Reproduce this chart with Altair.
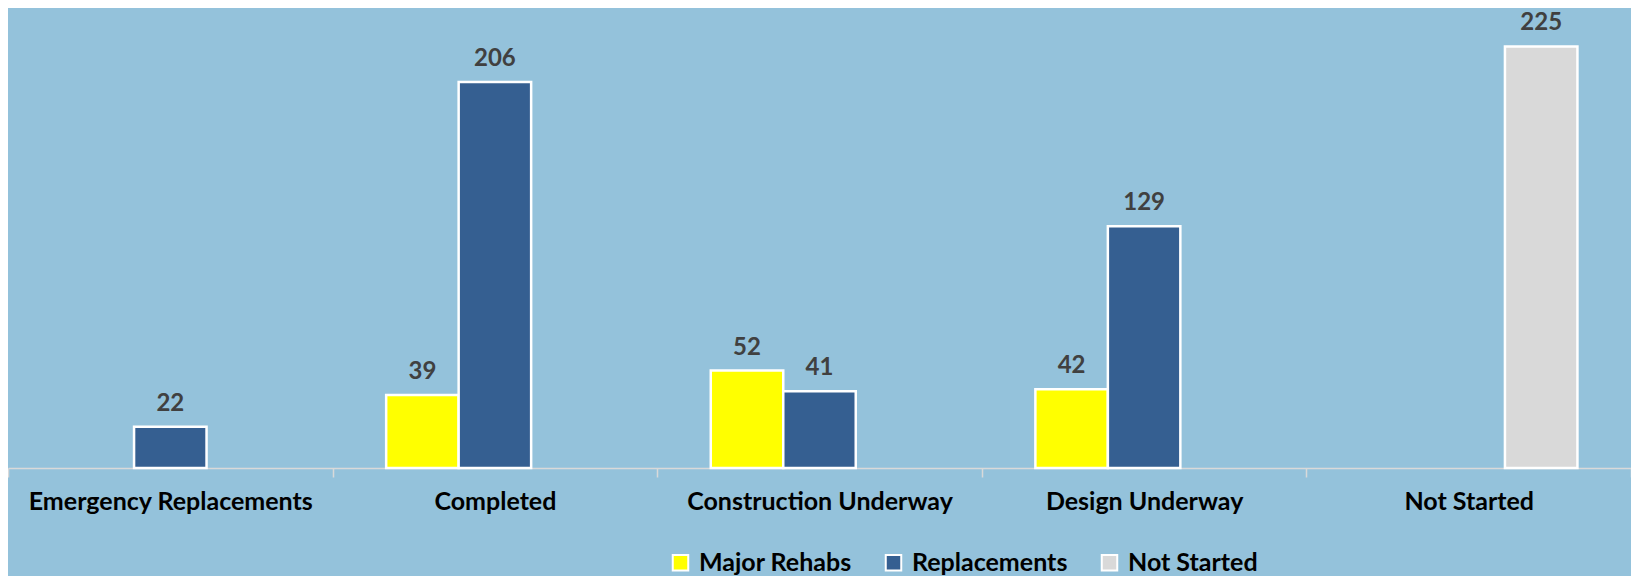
import altair as alt
import pandas as pd

categories = ["Emergency Replacements", "Completed", "Construction Underway",
              "Design Underway", "Not Started"]
series = ["Major Rehabs", "Replacements", "Not Started"]

bar_category = ["Emergency Replacements", "Completed", "Completed",
                "Construction Underway", "Construction Underway",
                "Design Underway", "Design Underway", "Not Started"]
bar_series = ["Replacements", "Major Rehabs", "Replacements",
              "Major Rehabs", "Replacements", "Major Rehabs", "Replacements",
              "Not Started"]
bar_value = [22, 39, 206, 52, 41, 42, 129, 225]

series_colors = ["#FFFF00", "#355F91", "#D9D9D9"]

df = pd.DataFrame({"category": bar_category, "series": bar_series, "value": bar_value})

FONT = "Lato"

x = alt.X("category:N", sort=categories,
          scale=alt.Scale(domain=categories, paddingInner=0, paddingOuter=0),
          axis=alt.Axis(title=None, labelAngle=0, tickBand="extent",
                        labelFont=FONT, labelFontSize=25, labelFontWeight="bold",
                        labelColor="#000000", labelBaseline="alphabetic",
                        labelPadding=32, tickSize=9, tickColor="#D9D9D9",
                        tickWidth=1.5, domainColor="#D9D9D9", domainWidth=1.5,
                        labelLimit=400))
xo = alt.XOffset("series:N", scale=alt.Scale(domain=series, paddingInner=0,
                                             paddingOuter=0.739))
y = alt.Y("value:Q", scale=alt.Scale(domain=[0, 242.3], nice=False),
          axis=None)

bars = alt.Chart(df).mark_bar(stroke="white", strokeWidth=2.5).encode(
    x=x, xOffset=xo, y=y,
    color=alt.Color("series:N", scale=alt.Scale(domain=series, range=series_colors),
                    legend=alt.Legend(title=None, orient="none", direction="horizontal",
                                      legendX=660, legendY=536,
                                      symbolType="square", symbolSize=240,
                                      symbolStrokeColor="white", symbolStrokeWidth=2,
                                      symbolOpacity=1,
                                      labelFont=FONT, labelFontSize=25,
                                      labelFontWeight="bold", labelColor="#000000",
                                      labelOffset=6, columnPadding=29,
                                      labelLimit=300))
)

labels = alt.Chart(df).mark_text(font=FONT, fontSize=24, fontWeight="bold",
                                 color="#404040", baseline="alphabetic", dy=-16).encode(
    x=x, xOffset=xo, y=y, text=alt.Text("value:Q")
)

chart = (bars + labels).properties(
    width=1623, height=454,
    background="#94C2DB",
    padding={"left": 0, "top": 6, "right": 0, "bottom": 108},
    autosize=alt.AutoSizeParams(type="none"),
).configure_view(stroke=None)

chart.save("out.html", embed_options={"renderer": "svg", "actions": False})
